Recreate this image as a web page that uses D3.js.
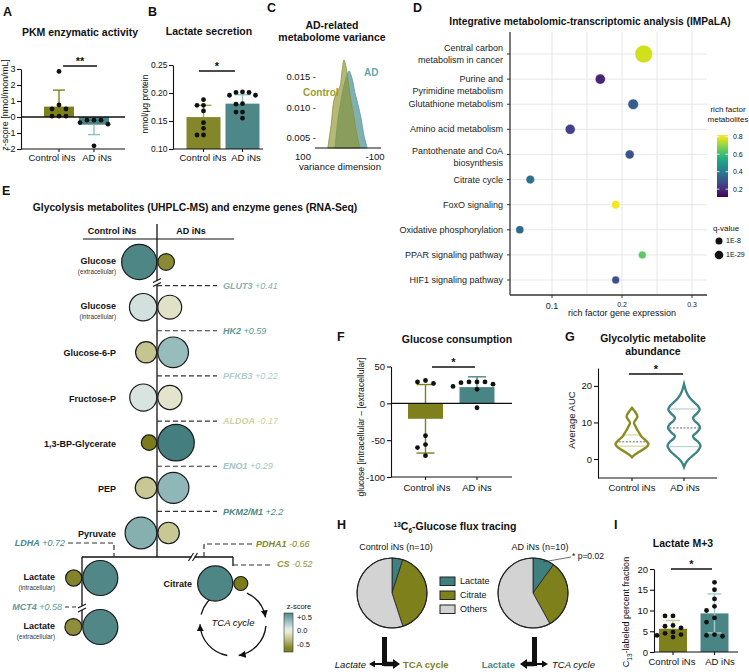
<!DOCTYPE html>
<html><head><meta charset="utf-8">
<script src="https://cdn.jsdelivr.net/npm/d3@7/dist/d3.min.js"></script>
<style>html,body{margin:0;padding:0;background:#fff}svg{display:block;font-family:"Liberation Sans",Arial,Helvetica,sans-serif}</style>
</head><body>
<svg width="749" height="672" viewBox="0 0 749 672"></svg>
<script>
// ================= DATA =================
const groups = ["Control iNs", "AD iNs"];

// A: PKM enzymatic activity (z-score)
const pkmControl = [2.85, 0.75, 0.5, 0.5, 0.05, 0.05, 0.05];
const pkmAD = [-0.2, -0.2, -0.2, -0.45, -0.35, -1.8];
const pkmMean = [0.65, -0.48];
const pkmSD = [1.03, 0.62];
const pkmTicks = [-2, -1, 0, 1, 2, 3];

// B: Lactate secretion (nmol/µg protein)
const lacControl = [0.188, 0.178, 0.178, 0.168, 0.147, 0.137, 0.125, 0.125];
const lacAD = [0.201, 0.202, 0.201, 0.196, 0.196, 0.181, 0.180, 0.166, 0.166, 0.155];
const lacMean = [0.157, 0.181];
const lacSD = [0.021, 0.016];
const lacTicks = [0.10, 0.15, 0.20, 0.25];

// C: AD-related metabolome variance, density [variance dimension, density]
const densControl = [[31,0.0034],[22,0.0071],[14,0.0112],[6,0.0125],[-3,0.0135],[-8,0.0158],[-14,0.0178],[-19,0.0168],[-25,0.0145],[-33,0.0112],[-42,0.0083],[-50,0.0055],[-58,0.0034]];
const densAD = [[11,0.0034],[3,0.0080],[-6,0.0112],[-14,0.0137],[-22,0.0153],[-28,0.0160],[-36,0.0148],[-44,0.0125],[-53,0.0104],[-61,0.0083],[-69,0.0055],[-78,0.0034]];
const cTicksY = [0.005, 0.010, 0.015];
const cTicksX = [100, -100];

// D: IMPaLA
const pathways = ["Central carbon\nmetabolism in cancer", "Purine and \nPyrimidine metabolism", "Glutathione metabolism", "Amino acid metabolism", "Pantothenate and CoA\nbiosynthesis", "Citrate cycle", "FoxO signaling", "Oxidative phosphorylation", "PPAR signaling pathway", "HIF1 signaling pathway"];
const richGene = [0.231, 0.169, 0.216, 0.126, 0.211, 0.069, 0.191, 0.054, 0.229, 0.191];
const richMetab = [0.77, 0.18, 0.32, 0.25, 0.29, 0.37, 0.81, 0.35, 0.64, 0.28];
const qNegLog10 = [150, 50, 55, 48, 35, 30, 28, 22, 20, 20];
const dTicksX = [0.1, 0.2, 0.3];
const dLegendTicks = [0.2, 0.4, 0.6, 0.8];
const qLegend = [8, 29];

// E: glycolysis metabolites (z-scores) and enzyme genes (log2FC)
const metabolites = ["Glucose", "Glucose", "Glucose-6-P", "Fructose-P", "1,3-BP-Glycerate", "PEP", "Pyruvate"];
const metaboliteNotes = ["(extracellular)", "(intracellular)", "", "", "", "", ""];
const zControl = [0.66, 0.12, -0.3, 0.1, -0.7, -0.28, 0.42];
const zAD = [-0.62, -0.12, 0.35, -0.1, 0.75, 0.38, -0.28];
const genes = ["GLUT3", "HK2", "PFKB3", "ALDOA", "ENO1", "PKM2/M1"];
const geneFC = [0.41, 0.59, 0.22, -0.17, 0.29, 2.2];
const lactateNotes = ["(intracellular)", "(extracellular)"];
const zLactateControl = [-0.65, -0.6];
const zLactateAD = [0.65, 0.65];
const zCitrate = [0.66, -0.8];
const branchGenes = ["LDHA", "MCT4", "PDHA1", "CS"];
const branchFC = [0.72, 0.58, -0.66, -0.52];
const zLegendTicks = [0.5, 0, -0.5];

// F: glucose consumption
const glcControl = [31, 29, 27, -44, -56, -60, -71];
const glcAD = [29, 29, 29, 28, 26, 23, 19, -6];
const glcMean = [-21, 22];
const glcSD = [46.5, 14];
const glcTicks = [-100, -50, 0, 50];

// G: glycolytic metabolite abundance, violins [value, relative density]
const violinControl = [[0.5,0],[1,0.12],[2,0.45],[3,0.8],[4,1.0],[5,0.85],[6,0.6],[7,0.45],[8,0.32],[9,0.2],[9.9,0.12],[10.7,0.22],[11.6,0.33],[12.5,0.25],[13.3,0.12],[14,0]];
const violinAD = [[-2.2,0],[-1,0.12],[0,0.3],[1,0.55],[2,0.8],[3,0.95],[3.6,1.0],[4.6,0.88],[5.6,0.62],[6.3,0.55],[7.2,0.75],[8.5,0.97],[9.6,0.85],[10.5,0.62],[11.3,0.55],[12.3,0.75],[13.5,0.95],[14.5,0.85],[15.5,0.62],[16.5,0.4],[17.5,0.24],[18.5,0.13],[19.5,0.06],[20.5,0]];
const violinMedian = [4.7, 8.5];
const violinQ1 = [3.5, 3.4];
const violinQ3 = [6.6, 13.7];
const gTicks = [0, 10, 20];

// H: 13C6-glucose flux tracing (%)
const fluxLabels = ["Lactate", "Citrate", "Others"];
const fluxControl = [5, 40, 55];
const fluxAD = [10, 32, 58];

// I: Lactate M+3
const m3Control = [8.7, 8.7, 6.4, 6.2, 5.8, 4.8, 4.5, 4.2, 4.0, 3.6];
const m3AD = [16.8, 15, 12.8, 11, 10, 8.2, 7.2, 4.2, 4.0, 3.8];
const m3Mean = [5.6, 9.3];
const m3SD = [2.0, 4.7];
const m3Ticks = [0, 5, 10, 15, 20];

// ================= HELPERS =================
const svg = d3.select("svg");
const defs = svg.append("defs");
const INK = "#111";
const OLIVE = "#7e801e", TEAL = "#4a8585";

function T(g, x, y, s, o = {}) {
  const t = g.append("text").attr("x", x).attr("y", y).attr("dy", "0.35em")
    .attr("font-size", o.size || 9.5).attr("text-anchor", o.anchor || "middle")
    .attr("fill", o.fill || INK);
  if (o.bold) t.attr("font-weight", "bold");
  if (o.italic) t.attr("font-style", "italic");
  if (o.rot) t.attr("transform", `rotate(-90,${x},${y})`);
  if (s !== null) t.text(s);
  return t;
}
function L(g, x1, y1, x2, y2, o = {}) {
  const l = g.append("line").attr("x1", x1).attr("y1", y1).attr("x2", x2).attr("y2", y2)
    .attr("stroke", o.stroke || INK).attr("stroke-width", o.w || 1);
  if (o.dash) l.attr("stroke-dasharray", o.dash);
  return l;
}
function swarm(vals, y, r, gap) {
  const placed = [], off = new Array(vals.length);
  const idx = vals.map((v, i) => i).sort((a, b) => vals[b] - vals[a]);
  const cands = [0];
  for (let k = 1; k < 8; k++) cands.push(-k * gap, k * gap);
  for (const i of idx) {
    const py = y(vals[i]);
    for (const c of cands) {
      if (placed.every(p => Math.hypot(p.x - c, p.y - py) >= 2 * r)) {
        off[i] = c; placed.push({ x: c, y: py }); break;
      }
    }
  }
  return off;
}
function styleAxis(ax, size) {
  ax.attr("font-family", null).attr("font-size", size || 9.5);
  ax.selectAll("text").attr("fill", INK);
  ax.selectAll("line,path").attr("stroke", INK).attr("stroke-width", 1.1);
}

function barPanel(o) {
  const g = svg.append("g");
  const y = o.y, yB = y.range()[0];
  const base = y(o.base);
  o.means.forEach((m, i) => {
    g.append("rect").attr("x", o.cx[i] - o.bw / 2).attr("width", o.bw)
      .attr("y", Math.min(y(m), base)).attr("height", Math.abs(y(m) - base))
      .attr("fill", o.fill[i]);
  });
  o.means.forEach((m, i) => {
    const d = o.errDir[i];
    const ends = d === "both" ? [m + o.sd[i], m - o.sd[i]] : [d === "up" ? m + o.sd[i] : m - o.sd[i]];
    ends.forEach(e => {
      L(g, o.cx[i], y(m), o.cx[i], y(e), { stroke: o.err[i], w: 1.4 });
      L(g, o.cx[i] - o.cap / 2, y(e), o.cx[i] + o.cap / 2, y(e), { stroke: o.err[i], w: 1.4 });
    });
  });
  if (o.zero) L(g, o.ax, y(0), o.ax2, y(0), { w: 1.3 });
  const ax = g.append("g").attr("transform", `translate(${o.ax},0)`)
    .call(d3.axisLeft(y).tickValues(o.ticks).tickFormat(o.fmt).tickSize(4).tickSizeOuter(0).tickPadding(o.pad || 2));
  styleAxis(ax, o.tickFont);
  L(g, o.ax, yB, o.ax2, yB, { w: 1.1 });
  o.cx.forEach(c => L(g, c, yB, c, yB + 3, { w: 1.1 }));
  groups.forEach((gr, i) => T(g, o.lx[i], o.ly, gr, { size: 9.5 }));
  L(g, o.sig[0], o.sig[2], o.sig[1], o.sig[2], { w: 1.4 });
  T(g, (o.sig[0] + o.sig[1]) / 2, o.sig[2] - 5, o.sigText, { size: 11, bold: true });
  [o.vals[0], o.vals[1]].forEach((vals, i) => {
    const off = swarm(vals, y, 2.4, o.gap);
    vals.forEach((v, j) => g.append("circle").attr("cx", o.cx[i] + off[j]).attr("cy", y(v)).attr("r", 2.4).attr("fill", INK));
  });
  return g;
}

// ================= LETTERS & TITLES =================
const gT = svg.append("g");
[["A", 3, 12], ["B", 148, 12], ["C", 267, 8], ["D", 413, 8], ["E", 2, 191], ["F", 337, 337], ["G", 565, 337], ["H", 337, 525], ["I", 614, 525]]
  .forEach(([s, x, y]) => T(gT, x, y, s, { anchor: "start", bold: true, size: 12.5 }));
T(gT, 80, 32, "PKM enzymatic activity", { bold: true, size: 10.5 });
T(gT, 209, 31, "Lactate secretion", { bold: true, size: 10.5 });
T(gT, 332, 25, "AD-related", { bold: true, size: 10.5 });
T(gT, 332, 37, "metabolome variance", { bold: true, size: 10.5 });
T(gT, 590, 21, "Integrative metabolomic-transcriptomic analysis (IMPaLA)", { bold: true, size: 10.2 });
T(gT, 195, 207, "Glycolysis metabolites (UHPLC-MS) and enzyme genes (RNA-Seq)", { bold: true, size: 10.3 });
T(gT, 457, 339, "Glucose consumption", { bold: true, size: 10.5 });
T(gT, 653, 338, "Glycolytic metabolite", { bold: true, size: 10.5 });
T(gT, 653, 351, "abundance", { bold: true, size: 10.5 });
T(gT, 683, 543, "Lactate M+3", { bold: true, size: 10.5 });
{
  const t = gT.append("text").attr("x", 455).attr("y", 530).attr("text-anchor", "middle")
    .attr("font-weight", "bold").attr("font-size", 10.5).attr("fill", INK);
  t.append("tspan").attr("font-size", 6.5).attr("dy", -3.5).text("13");
  t.append("tspan").attr("dy", 3.5).text("C");
  t.append("tspan").attr("font-size", 6.5).attr("dy", 2.5).text("6");
  t.append("tspan").attr("dy", -2.5).text("-Glucose flux tracing");
}

// ================= A =================
{
  const y = d3.scaleLinear().domain([-2, 3]).range([149, 69]);
  const g = barPanel({ y, base: 0, ax: 21, ax2: 125, cx: [59, 94], bw: 30, means: pkmMean, sd: pkmSD,
    errDir: ["up", "down"], err: [OLIVE, "#8cc0c0"], fill: [OLIVE, TEAL], cap: 12, zero: true,
    ticks: pkmTicks, fmt: d => String(d), tickFont: 9, pad: 1.5, lx: [52, 97], ly: 158, sig: [63, 97, 66], sigText: "**",
    vals: [pkmControl, pkmAD], gap: 7 });
  T(g, 5, 105, "z-score [nmol/mon/mL]", { rot: true, size: 9 });
}

// ================= B =================
{
  const y = d3.scaleLinear().domain([0.10, 0.25]).range([149, 65]);
  const g = barPanel({ y, base: 0.10, ax: 173, ax2: 263, cx: [203.5, 242.5], bw: 34, means: lacMean, sd: lacSD,
    errDir: ["up", "up"], err: ["#a3a54a", "#8cc3c3"], fill: ["#84862a", "#4d8787"], cap: 16, zero: false,
    ticks: lacTicks, fmt: d3.format(".2f"), tickFont: 8.5, pad: 1.5, lx: [203, 246], ly: 158, sig: [199, 235, 71], sigText: "*",
    vals: [lacControl, lacAD], gap: 6.5 });
  T(g, 145, 104, "nmol/µg protein", { rot: true, size: 8.5 });
}

// ================= C =================
{
  const g = svg.append("g");
  const xC = d3.scaleLinear().domain([100, -100]).range([303, 375]);
  const yC = d3.scaleLinear().domain([0.005, 0.015]).range([138, 77]);
  const area = d3.area().x(d => xC(d[0])).y0(148).y1(d => yC(d[1])).curve(d3.curveCatmullRom);
  g.append("path").datum(densAD).attr("d", area).attr("fill", "#7fb1b1").attr("stroke", "#5a9696").attr("stroke-width", 0.8);
  g.append("path").datum(densControl).attr("d", area).attr("fill", "#8e9430").attr("fill-opacity", 0.66)
    .attr("stroke", "#8a8f3a").attr("stroke-width", 0.8);
  L(g, 315, 148, 381, 148, { w: 1.2 });
  cTicksY.forEach(v => T(g, 316, yC(v), d3.format(".3f")(v) + " -", { anchor: "end", size: 9.5 }));
  cTicksX.forEach(v => T(g, xC(v), 157, String(v), { size: 9.5 }));
  T(g, 340, 167, "variance dimension", { size: 9.5 });
  T(g, 303, 92, "Control", { anchor: "start", bold: true, size: 10, fill: "#9a9d2e" });
  T(g, 364, 72, "AD", { anchor: "start", bold: true, size: 10, fill: "#6aa6a6" });
}

// ================= D =================
{
  const g = svg.append("g");
  const xD = d3.scaleLinear().domain([0.1, 0.3]).range([552, 692]);
  const yD = d3.scalePoint().domain(pathways).range([54, 280]);
  const rD = d3.scaleLinear().domain([8, 29]).range([3.5, 4.3]);
  const cD = v => d3.interpolateViridis((v - 0.11) / 0.71);
  const dL = 510, dR = 707, dT = 32, dB = 295;
  [0.1, 0.15, 0.2, 0.25, 0.3].forEach(v => L(g, xD(v), dT, xD(v), dB, { stroke: "#e4e4e4", w: 0.9 }));
  pathways.forEach(p => L(g, dL, yD(p), dR, yD(p), { stroke: "#e4e4e4", w: 0.9 }));
  L(g, dL, dT, dL, dB, { stroke: "#333", w: 1.3 });
  L(g, dL, dB, dR, dB, { stroke: "#333", w: 1.3 });
  const labelShift = { 1: 0, 4: -3.6 };
  pathways.forEach((p, i) => {
    L(g, dL - 3, yD(p), dL, yD(p), { stroke: "#333" });
    const lines = p.split("\n");
    const sh = labelShift[i] !== undefined ? labelShift[i] : -(lines.length - 1) * 5.9;
    lines.forEach((ln, k) => T(g, 503, yD(p) + sh + k * 11.8, ln, { anchor: "end", size: 9, fill: "#222" }));
  });
  pathways.forEach((p, i) => {
    g.append("circle").attr("cx", xD(richGene[i])).attr("cy", yD(p)).attr("r", rD(qNegLog10[i]))
      .attr("fill", cD(richMetab[i])).attr("stroke", "#fff").attr("stroke-width", 0.5);
  });
  dTicksX.forEach((v, i) => {
    L(g, xD(v), dB, xD(v), dB + 3, { stroke: "#333" });
    T(g, xD(v), i === 0 ? 306 : 305, String(v), { size: i === 0 ? 9 : 7, fill: "#222" });
  });
  T(g, 622, 313, "rich factor gene expression", { size: 9 });
  // colorbar
  const grad = defs.append("linearGradient").attr("id", "vir").attr("x1", 0).attr("y1", 1).attr("x2", 0).attr("y2", 0);
  d3.range(11).forEach(i => grad.append("stop").attr("offset", i / 10).attr("stop-color", d3.interpolateViridis(i / 10)));
  const yLeg = d3.scaleLinear().domain([0.11, 0.82]).range([197, 135]);
  g.append("rect").attr("x", 717).attr("y", 135).attr("width", 11).attr("height", 62).attr("fill", "url(#vir)");
  dLegendTicks.forEach(v => {
    L(g, 717, yLeg(v), 719.5, yLeg(v), { stroke: "#fff", w: 0.8 });
    L(g, 725.5, yLeg(v), 728, yLeg(v), { stroke: "#fff", w: 0.8 });
    T(g, 733, yLeg(v), String(v), { anchor: "start", size: 7 });
  });
  T(g, 728, 109, "rich factor", { size: 8 });
  T(g, 728, 119, "metabolites", { size: 8 });
  T(g, 713, 228, "q-value", { anchor: "start", size: 8 });
  qLegend.forEach((q, i) => {
    g.append("circle").attr("cx", 719).attr("cy", 241 + i * 14).attr("r", rD(q)).attr("fill", INK);
    T(g, 726, 241 + i * 14, "1E-" + q, { anchor: "start", size: 7 });
  });
}

// ================= E =================
{
  const g = svg.append("g");
  const ah = defs.append("marker").attr("id", "ah").attr("markerUnits", "userSpaceOnUse")
    .attr("markerWidth", 8).attr("markerHeight", 8).attr("refX", 7).attr("refY", 3.5).attr("orient", "auto");
  ah.append("path").attr("d", "M0,0L7,3.5L0,7Z").attr("fill", INK);

  const yE = d3.scalePoint().domain(d3.range(metabolites.length)).range([262, 533]);
  const rZ = d3.scaleLinear().domain([-0.8, 0.8]).range([7, 18.6]);
  const cZ = d3.scaleLinear().domain([-0.7, -0.3, 0, 0.3, 0.7])
    .range(["#7a7b1a", "#c5c58f", "#f4f4ee", "#a2c5c5", "#457e7e"]).clamp(true);
  const cG = d3.scaleLinear().domain([-0.6, -0.15, 0, 0.2, 0.7])
    .range(["#858620", "#d6d4a2", "#eeeeee", "#b3d0d0", "#4a8686"]).clamp(true);
  const fmtFC = v => (v > 0 ? "+" : "") + v;
  const geneLabel = (x, y, name, v, anchor) => {
    const t = T(g, x, y, null, { anchor: anchor || "start", size: 9, italic: true, fill: cG(v) });
    t.append("tspan").attr("font-weight", "bold").text(name);
    t.append("tspan").text(" " + fmtFC(v));
  };
  const breakV = (x, y) => {
    g.append("rect").attr("x", x - 5).attr("y", y - 2).attr("width", 10).attr("height", 4).attr("fill", "#fff");
    [-2, 2].forEach(d => L(g, x - 4, y + d + 2, x + 4, y + d - 2, { w: 1.1 }));
  };
  const breakH = (x, y) => {
    g.append("rect").attr("x", x - 1.5).attr("y", y - 5).attr("width", 3).attr("height", 10).attr("fill", "#fff");
    [-2, 2].forEach(d => L(g, x + d - 2.5, y + 4, x + d + 2.5, y - 4, { w: 1.1 }));
  };
  const pair = (div, y, zc, za) => {
    const rc = rZ(zc), ra = rZ(za);
    g.append("circle").attr("cx", div - rc - 0.2).attr("cy", y).attr("r", rc).attr("fill", cZ(zc)).attr("stroke", "#1a1a1a").attr("stroke-width", 1.2);
    g.append("circle").attr("cx", div + ra + 0.8).attr("cy", y).attr("r", ra).attr("fill", cZ(za)).attr("stroke", "#1a1a1a").attr("stroke-width", 1.2);
  };
  const nameLabel = (x, y, name, note) => {
    if (note) {
      T(g, x, y - 1, name, { anchor: "end", bold: true, size: 9 });
      T(g, x, y + 10, note, { anchor: "end", size: 6.3, fill: "#333" });
    } else T(g, x, y + 1, name, { anchor: "end", bold: true, size: 9 });
  };

  // header
  T(g, 112, 231, "Control iNs", { bold: true, size: 9 });
  T(g, 191, 231, "AD iNs", { bold: true, size: 9 });
  L(g, 83, 239, 234, 239, { w: 1.2 });
  // skeleton
  L(g, 157, 224, 157, 557, { w: 1.3 });
  L(g, 82, 557, 233, 557, { w: 1.3 });
  L(g, 82, 557, 82, 627, { w: 1.3 });
  L(g, 233, 557, 233, 566, { w: 1.3 });

  // gene dashed lines
  genes.forEach((gn, i) => {
    const yy = (yE(i) + yE(i + 1)) / 2 + 1;
    L(g, 157, yy, 217, yy, { w: 1.2, dash: "5,3", stroke: "#333" });
    geneLabel(223, yy, gn, geneFC[i]);
  });
  breakV(157, (yE(0) + yE(1)) / 2 - 2);

  // branch genes
  g.append("path").attr("d", "M68,543H114V557").attr("fill", "none").attr("stroke", "#333").attr("stroke-width", 1.2).attr("stroke-dasharray", "5,3");
  geneLabel(65, 543, branchGenes[0], branchFC[0], "end");
  L(g, 65, 607, 80, 607, { w: 1.2, dash: "4,3", stroke: "#333" });
  geneLabel(62, 607, branchGenes[1], branchFC[1], "end");
  breakV(82, 608);
  g.append("path").attr("d", "M204,557V544H252").attr("fill", "none").attr("stroke", "#333").attr("stroke-width", 1.2).attr("stroke-dasharray", "5,3");
  geneLabel(256, 544, branchGenes[2], branchFC[2]);
  L(g, 233, 565, 273, 565, { w: 1.2, dash: "5,3", stroke: "#333" });
  geneLabel(277, 564, branchGenes[3], branchFC[3]);
  breakH(193, 557);

  // TCA cycle arcs
  const tc = { x: 233, y: 623, r: 33 };
  const rad = d => (d - 90) * Math.PI / 180;
  [[25, 80, true], [95, 170, true], [190, 268, true], [285, 335, false]].forEach(([a0, a1, arr]) => {
    const p = d3.path();
    p.moveTo(tc.x + tc.r * Math.cos(rad(a0)), tc.y + tc.r * Math.sin(rad(a0)));
    p.arc(tc.x, tc.y, tc.r, rad(a0), rad(a1), false);
    const pa = g.append("path").attr("d", p.toString()).attr("fill", "none").attr("stroke", INK).attr("stroke-width", 1.3);
    if (arr) pa.attr("marker-end", "url(#ah)");
  });
  T(g, tc.x, tc.y, "TCA cycle", { italic: true, size: 9.5 });

  // metabolite circles
  metabolites.forEach((m, i) => {
    pair(157, yE(i), zControl[i], zAD[i]);
    nameLabel(116, yE(i), m, metaboliteNotes[i]);
  });
  [578, 627].forEach((yy, i) => {
    pair(82, yy, zLactateControl[i], zLactateAD[i]);
    nameLabel(55, yy, "Lactate", lactateNotes[i]);
  });
  pair(233, 583.5, zCitrate[0], zCitrate[1]);
  nameLabel(192, 583, "Citrate", "");

  // z-score legend
  const zLeg = d3.scaleLinear().domain([-0.5, 0.5]).range([644, 617]);
  const zg = defs.append("linearGradient").attr("id", "zg").attr("x1", 0).attr("y1", 0).attr("x2", 0).attr("y2", 1);
  d3.range(11).forEach(i => zg.append("stop").attr("offset", i / 10).attr("stop-color", cZ(zLeg.invert(613 + i * 3.9))));
  g.append("rect").attr("x", 284).attr("y", 613).attr("width", 9).attr("height", 39).attr("fill", "url(#zg)").attr("stroke", "#333").attr("stroke-width", 0.6);
  zLegendTicks.forEach(v => T(g, 297, zLeg(v), v > 0 ? "+" + v : (v === 0 ? "0.0" : String(v)), { anchor: "start", size: 7.5 }));
  T(g, 299, 606, "z-score", { size: 7.5 });
}

// ================= F =================
{
  const y = d3.scaleLinear().domain([-100, 50]).range([477, 366.5]);
  const g = barPanel({ y, base: 0, ax: 391, ax2: 512, cx: [425.5, 477], bw: 35, means: glcMean, sd: glcSD,
    errDir: ["both", "up"], err: [OLIVE, TEAL], fill: [OLIVE, TEAL], cap: 18, zero: true,
    ticks: glcTicks, fmt: d => String(d), lx: [427, 477], ly: 488, sig: [432, 475, 367], sigText: "*",
    vals: [glcControl, glcAD], gap: 8 });
  T(g, 361, 427, "glucose [intracellular – [extracellular]", { rot: true, size: 8.6 });
}

// ================= G =================
{
  const g = svg.append("g");
  const y = d3.scaleLinear().domain([-5.2, 24.9]).range([478, 368]);
  const cx = d3.scalePoint().domain(groups).range([632, 684]);
  const w = d3.scaleLinear().domain([0, 1]).range([0, 16.5]);
  const ax = g.append("g").attr("transform", "translate(598,0)")
    .call(d3.axisLeft(y).tickValues(gTicks).tickSize(4).tickSizeOuter(0).tickPadding(2));
  styleAxis(ax);
  L(g, 598, 478, 717, 478, { w: 1.1 });
  groups.forEach(gr => { L(g, cx(gr), 478, cx(gr), 481, { w: 1.1 }); T(g, cx(gr) + (gr === "AD iNs" ? 1 : 0), 488, gr, { size: 9.5 }); });
  T(g, 572, 420, "Average AUC", { rot: true, size: 9.5 });
  L(g, 629, 374, 683, 374, { w: 1.4 });
  T(g, 656, 369, "*", { size: 11, bold: true });
  const densAt = (arr, v) => {
    for (let k = 1; k < arr.length; k++) if (v <= arr[k][0]) {
      const t = (v - arr[k - 1][0]) / (arr[k][0] - arr[k - 1][0]);
      return arr[k - 1][1] + t * (arr[k][1] - arr[k - 1][1]);
    }
    return 0;
  };
  [[violinControl, "#8a8c1f", "#d3d49c"], [violinAD, "#3f8585", "#b5d3d3"]].forEach(([arr, col, qcol], i) => {
    const c = cx(groups[i]);
    const area = d3.area().y(d => y(d[0])).x0(d => c - w(d[1])).x1(d => c + w(d[1])).curve(d3.curveCatmullRom);
    g.append("path").datum(arr).attr("d", area).attr("fill", "#fff").attr("stroke", col).attr("stroke-width", 2.4);
    [violinQ1[i], violinQ3[i]].forEach(v => { const hw = w(densAt(arr, v)) - 1.5; L(g, c - hw, y(v), c + hw, y(v), { stroke: qcol, w: 1.2 }); });
    const hm = w(densAt(arr, violinMedian[i])) - 1.5;
    L(g, c - hm, y(violinMedian[i]), c + hm, y(violinMedian[i]), { stroke: "#666", w: 1, dash: "2,1.5" });
  });
}

// ================= H =================
{
  const g = svg.append("g");
  const pie = d3.pie().sort(null).value(d => d);
  const arc = d3.arc().innerRadius(0).outerRadius(35);
  const colF = d3.scaleOrdinal().domain(fluxLabels).range(["#3f7f7f", "#7e801c", "#d3d3d3"]);
  [[fluxControl, 392, "Control iNs (n=10)", 396], [fluxAD, 533, "AD iNs (n=10)", 540]].forEach(([vals, x, lab, lx]) => {
    const gp = g.append("g").attr("transform", `translate(${x},593)`);
    gp.selectAll("path").data(pie(vals)).join("path").attr("d", arc)
      .attr("fill", (d, i) => colF(fluxLabels[i])).attr("stroke", "#222").attr("stroke-width", 0.8);
    gp.append("circle").attr("r", 35).attr("fill", "none").attr("stroke", "#222").attr("stroke-width", 1.1);
    T(g, lx, 547, lab, { size: 9 });
  });
  L(g, 543, 562, 571, 557, { stroke: "#333", w: 0.7 });
  T(g, 572, 556, "* p=0.02", { anchor: "start", size: 8.5 });
  fluxLabels.forEach((f, i) => {
    g.append("rect").attr("x", 440).attr("y", 577 + i * 14).attr("width", 15).attr("height", 8.5)
      .attr("fill", colF(f)).attr("stroke", "#222").attr("stroke-width", 1);
    T(g, 460, 581 + i * 14, f, { anchor: "start", size: 9 });
  });
  const hArrow = (x0, x1, yy, wdt, hl, hw) => {
    const s = Math.sign(x1 - x0);
    L(g, x0, yy, x1 - s * hl, yy, { w: wdt });
    g.append("path").attr("d", `M${x1},${yy}L${x1 - s * hl},${yy - hw}L${x1 - s * hl},${yy + hw}Z`).attr("fill", INK);
  };
  // control
  g.append("rect").attr("x", 382).attr("y", 637).attr("width", 5).attr("height", 29).attr("fill", INK);
  hArrow(384, 369, 664, 2, 6, 3.5);
  hArrow(384, 400, 664, 4.5, 7, 5);
  T(g, 366, 665, "Lactate", { anchor: "end", italic: true, size: 9.5 });
  T(g, 403, 665, "TCA cycle", { anchor: "start", bold: true, size: 9.5, fill: "#7e801c" });
  // AD
  g.append("rect").attr("x", 532).attr("y", 637).attr("width", 5).attr("height", 29).attr("fill", INK);
  hArrow(534.5, 520, 664, 4.5, 7, 5);
  hArrow(534.5, 548, 664, 2, 6, 3.5);
  T(g, 515, 665, "Lactate", { anchor: "end", bold: true, size: 9.5, fill: "#3f8585" });
  T(g, 552, 665, "TCA cycle", { anchor: "start", italic: true, size: 9.5 });
}

// ================= I =================
{
  const y = d3.scaleLinear().domain([0, 20]).range([652, 569]);
  const g = barPanel({ y, base: 0, ax: 654, ax2: 738, cx: [673, 714.5], bw: 28, means: m3Mean, sd: m3SD,
    errDir: ["up", "both"], err: ["#c8ca8a", "#9ccccc"], fill: [OLIVE, TEAL], cap: 14, zero: false,
    ticks: m3Ticks, fmt: d => String(d), lx: [672, 720], ly: 662, sig: [671, 712, 569], sigText: "*",
    vals: [m3Control, m3AD], gap: 8 });
  const t = T(g, 626, 612, null, { rot: true, size: 9 });
  t.append("tspan").text("C");
  t.append("tspan").attr("dy", 2.5).attr("font-size", 6.5).text("13");
  t.append("tspan").attr("dy", -2.5).text("-labeled percent fraction");
}
</script>
</body></html>
